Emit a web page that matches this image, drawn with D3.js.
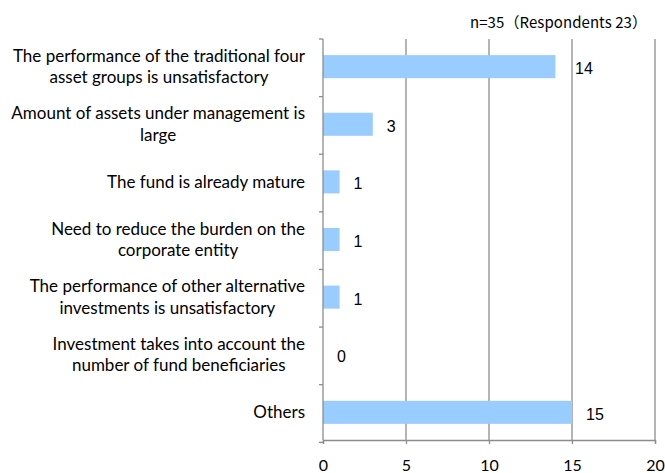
<!DOCTYPE html>
<html><head><meta charset="utf-8">
<script src="https://cdn.jsdelivr.net/npm/d3@7"></script>
<style>body{margin:0;background:#fff}svg{display:block}</style>
</head><body>
<svg id="c" width="665" height="473"></svg>
<script>
const categories = [
  ["The performance of the traditional four", "asset groups is unsatisfactory"],
  ["Amount of assets under management is", "large"],
  ["The fund is already mature"],
  ["Need to reduce the burden on the", "corporate entity"],
  ["The performance of other alternative", "investments is unsatisfactory"],
  ["Investment takes into account the", "number of fund beneficiaries"],
  ["Others"]
];
const values = [14, 3, 1, 1, 1, 0, 15];
const xTicks = [0, 5, 10, 15, 20];
const note = "n=35（Respondents 23）";

const svg = d3.select("#c");
const W = 665, H = 473;
const m = {left: 323, right: 10, top: 39, bottom: 33};
const x = d3.scaleLinear().domain([0, 20]).range([m.left, W - m.right]);
const ids = categories.map((d, i) => i);
const y = d3.scaleBand().domain(ids).range([m.top, H - m.bottom]).paddingInner(0.6).paddingOuter(0.28);
const grey = "#8c8c8c";
const labelFont = "Lato, 'Open Sans', sans-serif";

// gridlines
svg.append("g").selectAll("line").data(xTicks.slice(1)).join("line")
  .attr("x1", d => x(d)).attr("x2", d => x(d))
  .attr("y1", m.top).attr("y2", H - m.bottom)
  .attr("stroke", grey).attr("stroke-width", 1.3);

// bars
svg.append("g").selectAll("rect").data(values).join("rect")
  .attr("x", x(0)).attr("y", (d, i) => y(i))
  .attr("width", d => x(d) - x(0)).attr("height", y.bandwidth())
  .attr("fill", "#99ccff");

// x axis
const xa = svg.append("g").attr("transform", `translate(0,${H - m.bottom})`)
  .call(d3.axisBottom(x).tickValues(xTicks).tickSize(4).tickPadding(16));
xa.select(".domain").attr("stroke", grey).attr("stroke-width", 1.3);
xa.selectAll(".tick line").attr("stroke", grey).attr("stroke-width", 1.3);
xa.selectAll("text").attr("font-family", labelFont).attr("font-size", 16).attr("fill", "#000");

// y axis line + boundary ticks
const step = y.step();
const bounds = d3.range(categories.length + 1).map(i => m.top + i * step);
svg.append("line").attr("x1", x(0)).attr("x2", x(0)).attr("y1", m.top).attr("y2", H - m.bottom)
  .attr("stroke", grey).attr("stroke-width", 1.3);
svg.append("g").selectAll("line").data(bounds).join("line")
  .attr("x1", x(0) - 4).attr("x2", x(0)).attr("y1", d => d).attr("y2", d => d)
  .attr("stroke", grey).attr("stroke-width", 1.3);

// category labels
const rightEdge = 305;
const lh = 21.5;
categories.forEach((lines, i) => {
  const cy = y(i) + y.bandwidth() / 2;
  const g = svg.append("g");
  const n = lines.length;
  const texts = lines.map((t, k) => g.append("text").text(t)
    .attr("font-family", labelFont).attr("font-size", 17).attr("fill", "#000")
    .attr("text-anchor", "middle")
    .attr("y", cy + (k - (n - 1) / 2) * lh).attr("dy", "0.35em"));
  const maxW = d3.max(texts, t => t.node().getComputedTextLength());
  texts.forEach(t => t.attr("x", rightEdge - maxW / 2));
});

// value labels (nudged clear of a gridline they would touch)
const labelX = d => {
  let lx = x(d) + 14;
  xTicks.slice(1).forEach(t => { const gx = x(t); if (lx > gx - 6 && lx < gx + 2) lx = gx + 3; });
  return lx;
};
svg.append("g").selectAll("text").data(values).join("text")
  .attr("x", labelX).attr("y", (d, i) => y(i) + y.bandwidth() / 2 + 2)
  .attr("dy", "0.35em")
  .attr("font-family", "'Liberation Sans', Arial, sans-serif").attr("font-size", 16)
  .text(d => d);

// note
svg.append("text").attr("x", 647).attr("y", 28).attr("text-anchor", "end")
  .attr("font-family", "'Noto Sans CJK JP', sans-serif").attr("font-size", 15)
  .attr("textLength", 177).attr("lengthAdjust", "spacing")
  .text(note);
</script>
</body></html>
